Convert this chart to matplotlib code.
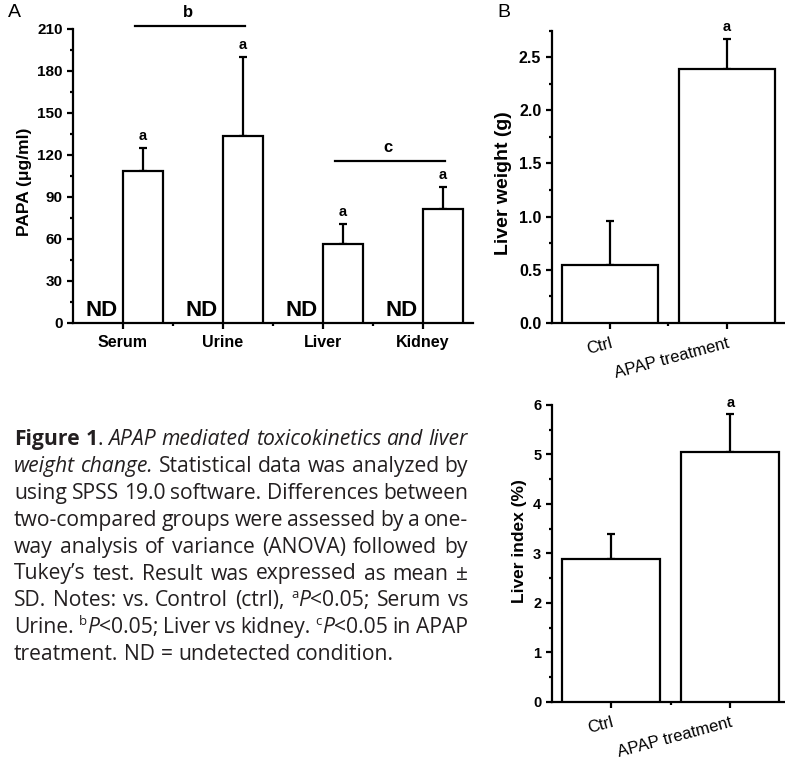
import numpy as np
import matplotlib
matplotlib.use('Agg')
import matplotlib.pyplot as plt

# panel A: PAPA in APAP treated group (control = ND)
tissues = ['Serum', 'Urine', 'Liver', 'Kidney']
papa_apap = [108.7, 133.7, 56.5, 81.3]
papa_apap_sd = [16.4, 56.5, 14.1, 15.7]
# significance bars: (group i, group j, letter, height)
sig_pairs = [(0, 1, 'b', 212), (2, 3, 'c', 115.6)]

# panel B / C
groups = ['Ctrl', 'APAP treatment']
liver_weight = [0.54, 2.39]
liver_weight_sd = [0.42, 0.28]
liver_index = [2.89, 5.04]
liver_index_sd = [0.50, 0.77]

caption = [
    "**Figure 1**. *APAP mediated toxicokinetics and liver",
    "weight change.* Statistical data was analyzed by",
    "using SPSS 19.0 software. Differences between",
    "two-compared groups were assessed by a one-",
    "way analysis of variance (ANOVA) followed by",
    "Tukey\u2019s test. Result was expressed as mean \u00b1",
    "SD. Notes: vs. Control (ctrl), ^a^*P*<0.05; Serum vs",
    "Urine. ^b^*P*<0.05; Liver vs kidney. ^c^*P*<0.05 in APAP",
    "treatment. ND = undetected condition.",
]

W, H = 785, 761
plt.rcParams['font.family'] = ['Liberation Sans', 'DejaVu Sans']
plt.rcParams['font.weight'] = 'bold'
plt.rcParams['axes.labelweight'] = 'bold'
fig = plt.figure(figsize=(W / 100, H / 100), dpi=100)
LW = 1.6


def add_axes_px(l, t, r, b):
    return fig.add_axes([l / W, 1 - b / H, (r - l) / W, (b - t) / H])


def style_axes(ax):
    for s in ['top', 'right']:
        ax.spines[s].set_visible(False)
    for s in ['left', 'bottom']:
        ax.spines[s].set_linewidth(LW)
    ax.tick_params(which='both', direction='out', width=LW, color='black')
    ax.tick_params(which='major', length=4.5)
    ax.tick_params(which='minor', length=2.5)


def mark_a(ax, xs, tops):
    for xi, t in zip(xs, tops):
        ax.annotate('a', (xi, t), xytext=(0, 3.5), textcoords='offset points',
                    ha='center', va='bottom', fontsize=10.5, annotation_clip=False)


# ---------------- A ----------------
axA = add_axes_px(73, 29, 473, 322.7)
style_axes(axA)
x = np.arange(len(tissues))
axA.bar(x + 0.2, papa_apap, 0.4, facecolor='white', edgecolor='black', linewidth=LW, zorder=3)
axA.errorbar(x + 0.2, papa_apap, yerr=[np.zeros(len(x)), papa_apap_sd], fmt='none',
             ecolor='black', elinewidth=LW, capsize=3, capthick=LW, zorder=2)
for xi in x:
    axA.text(xi - 0.21, 1.5, 'ND', ha='center', va='bottom', fontsize=16)
mark_a(axA, x + 0.2, np.add(papa_apap, papa_apap_sd))
for i, j, lab, h in sig_pairs:
    axA.plot([i + 0.12, j + 0.22], [h, h], color='black', lw=LW, clip_on=False)
    axA.text((i + j) / 2 + 0.15, h + 9.5, lab, ha='center', va='center', fontsize=12)
axA.set_xlim(-0.5, 3.5)
axA.set_ylim(0, 210)
axA.set_yticks(np.arange(0, 211, 30))
axA.set_yticks(np.arange(15, 210, 30), minor=True)
axA.set_xticks(x)
axA.set_xticks(x[:-1] + 0.5, minor=True)
axA.set_xticklabels(tissues, fontsize=11.5)
axA.tick_params(axis='y', labelsize=11, pad=3)
axA.tick_params(axis='x', pad=4)
axA.set_ylabel('PAPA (\u03bcg/ml)', fontsize=12.5)
axA.yaxis.set_label_coords(-0.1025, 0.48)
fig.text(8 / W, 1 - 4 / H, 'A', fontsize=14, fontweight='normal', va='top', ha='left')

# ---------------- B ----------------
xg = np.arange(len(groups))
axB = add_axes_px(551.7, 30.7, 551.7 + 233.4, 322.7)
style_axes(axB)
axB.bar(xg, liver_weight, 0.82, facecolor='white', edgecolor='black', linewidth=LW, zorder=3)
axB.errorbar(xg, liver_weight, yerr=[np.zeros(2), liver_weight_sd], fmt='none',
             ecolor='black', elinewidth=LW, capsize=3, capthick=LW, zorder=2)
mark_a(axB, xg[1:], np.add(liver_weight, liver_weight_sd)[1:])
axB.set_xlim(-0.5, 1.5)
axB.set_ylim(0, 2.75)
axB.set_yticks(np.arange(0, 2.6, 0.5))
axB.set_yticks(np.arange(0.25, 2.8, 0.5), minor=True)
axB.set_xticks(xg)
axB.set_xticks([0.5], minor=True)
axB.set_xticklabels(groups, fontsize=12, fontweight='normal', rotation=15,
                    ha='right', rotation_mode='anchor')
axB.tick_params(axis='y', labelsize=11.5, pad=3)
axB.tick_params(axis='x', pad=5)
axB.set_ylabel('Liver weight (g)', fontsize=14)
axB.yaxis.set_label_coords(-0.171, 0.477)
fig.text(497 / W, 1 - 4 / H, 'B', fontsize=14, fontweight='normal', va='top', ha='left')

# ---------------- C ----------------
axC = add_axes_px(551.7, 405, 551.7 + 238, 701.7)
style_axes(axC)
axC.bar(xg, liver_index, 0.82, facecolor='white', edgecolor='black', linewidth=LW, zorder=3)
axC.errorbar(xg, liver_index, yerr=[np.zeros(2), liver_index_sd], fmt='none',
             ecolor='black', elinewidth=LW, capsize=3, capthick=LW, zorder=2)
mark_a(axC, xg[1:], np.add(liver_index, liver_index_sd)[1:])
axC.set_xlim(-0.5, 1.5)
axC.set_ylim(0, 6)
axC.set_yticks(np.arange(0, 7, 1))
axC.set_yticks(np.arange(0.5, 6, 1), minor=True)
axC.set_xticks(xg)
axC.set_xticks([0.5], minor=True)
axC.set_xticklabels(groups, fontsize=12, fontweight='normal', rotation=15,
                    ha='right', rotation_mode='anchor')
axC.tick_params(axis='y', labelsize=10.5, pad=3)
axC.tick_params(axis='x', pad=5)
axC.set_ylabel('Liver index (%)', fontsize=12.5)
axC.yaxis.set_label_coords(-0.104, 0.542)

# ---------------- caption (justified) ----------------
cap_font = ['Open Sans', 'DejaVu Sans']
cap_color = '#231f20'
cap_left, cap_right = 14, 468
cap_top, cap_step = 445, 26.9


def parse(lines):
    bold = ital = sup = False
    out = []
    for line in lines:
        words = []
        for w in line.split(' '):
            segs, cur, i = [], '', 0
            while i < len(w):
                if w.startswith('**', i) or w[i] in '*^':
                    if cur:
                        segs.append((cur, bold, ital, sup))
                        cur = ''
                    if w.startswith('**', i):
                        bold = not bold
                        i += 2
                        continue
                    if w[i] == '*':
                        ital = not ital
                    else:
                        sup = not sup
                    i += 1
                else:
                    cur += w[i]
                    i += 1
            if cur:
                segs.append((cur, bold, ital, sup))
            words.append(segs)
        out.append(words)
    return out


renderer = fig.canvas.get_renderer()


def width_of(s, size):
    t = fig.text(0, 0, s, fontsize=size, family=cap_font, fontweight='normal')
    w = t.get_window_extent(renderer).width
    t.remove()
    return w


# fit size so the (unjustified) last line matches the reference width
size = 12 * 379 / width_of(caption[-1], 12)
space = width_of('n n', size) - width_of('nn', size)

for li, words in enumerate(parse(caption)):
    y = cap_top + li * cap_step
    items = []
    for segs in words:
        parts = []
        for txt, b, it, sp in segs:
            t = fig.text(0, 0, txt, fontsize=size * 0.62 if sp else size, family=cap_font,
                         fontweight='bold' if b else 'normal',
                         fontstyle='italic' if it else 'normal',
                         color=cap_color, va='baseline', ha='left')
            parts.append((t, t.get_window_extent(renderer).width, sp))
        items.append(parts)
    widths = [sum(p[1] for p in parts) for parts in items]
    if li < len(caption) - 1 and len(items) > 1:
        gap = (cap_right - cap_left - sum(widths)) / (len(items) - 1)
    else:
        gap = space
    xpos = cap_left
    for parts, wd in zip(items, widths):
        xx = xpos
        for t, w, sp in parts:
            yy = y - (size * 0.38 * 100 / 72 if sp else 0)
            t.set_position((xx / W, 1 - yy / H))
            xx += w
        xpos += wd + gap

fig.savefig('out.png', dpi=100)
